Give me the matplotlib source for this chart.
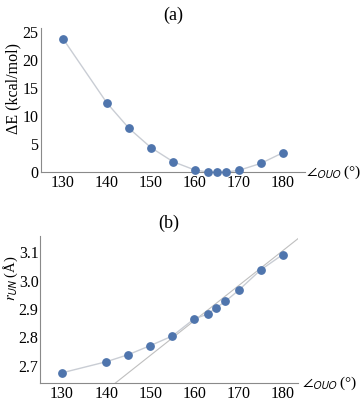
import matplotlib
matplotlib.use("Agg")
import matplotlib.pyplot as plt
import numpy as np

# Data
angles = [130, 140, 145, 150, 155, 160, 163, 165, 167, 170, 175, 180]
delta_e = [23.8, 12.3, 7.8, 4.35, 1.85, 0.35, 0.0, 0.0, 0.0, 0.3, 1.55, 3.45]
r_un = [2.675, 2.714, 2.739, 2.771, 2.805, 2.866, 2.882, 2.905, 2.927, 2.966, 3.038, 3.092]
tangent_x = [142.1, 184.0]
tangent_y = [2.639, 3.155]

xticks = [130, 140, 150, 160, 170, 180]
yticks_a = [0, 5, 10, 15, 20, 25]
yticks_b = [2.7, 2.8, 2.9, 3.0, 3.1]

plt.rcParams['mathtext.fontset'] = 'stix'
serif = 'Liberation Serif'
marker_color = '#4f75ad'
line_color = '#c9cdd4'
spine_color = '#8a8a8a'
tick_fs = 11.5

fig = plt.figure(figsize=(3.6, 4.13), dpi=100)
ax1 = fig.add_axes([0.114, 0.5835, 0.733, 0.3485])
ax2 = fig.add_axes([0.111, 0.0726, 0.717, 0.356])

def style(ax):
    for s in ['top', 'right']:
        ax.spines[s].set_visible(False)
    for s in ['left', 'bottom']:
        ax.spines[s].set_color(spine_color)
        ax.spines[s].set_linewidth(0.8)
    ax.tick_params(length=0, pad=2)
    ax.set_xticks(xticks)
    ax.set_xticklabels([str(t) for t in xticks], fontfamily=serif, fontsize=tick_fs)

# Panel (a)
ax1.plot(angles, delta_e, color=line_color, lw=1.0, zorder=2)
ax1.scatter(angles, delta_e, s=28, color=marker_color, zorder=3, clip_on=False)
ax1.set_xlim(125, 185)
ax1.set_ylim(0, 25.7)
style(ax1)
ax1.set_yticks(yticks_a)
ax1.set_yticklabels([str(t) for t in yticks_a], fontfamily=serif, fontsize=tick_fs)
ax1.text(-0.105, 0.58, 'ΔE (kcal/mol)', transform=ax1.transAxes, rotation=90,
         ha='center', va='center', fontfamily=serif, fontsize=11.5)
ax1.set_title('(a)', fontfamily=serif, fontsize=13, pad=6)
ax1.text(1.005, 0.0, r'$\angle_{\mathsf{OUO}}$ (°)', transform=ax1.transAxes,
         ha='left', va='center', fontfamily=serif, fontsize=11)

# Panel (b)
ax2.plot(angles, r_un, color=line_color, lw=1.0, zorder=2)
ax2.plot(tangent_x, tangent_y, color='#bfbfbf', lw=0.8, zorder=1)
ax2.scatter(angles, r_un, s=28, color=marker_color, zorder=3, clip_on=False)
ax2.set_xlim(125, 183.5)
ax2.set_ylim(2.639, 3.158)
style(ax2)
ax2.set_yticks(yticks_b)
ax2.set_yticklabels([f'{t:.1f}' for t in yticks_b], fontfamily=serif, fontsize=tick_fs)
ax2.tick_params(axis='y', pad=1)
ax2.text(-0.113, 0.71, r'$r_{\mathsf{UN}}$ (Å)', transform=ax2.transAxes, rotation=90,
         ha='center', va='center', fontfamily=serif, fontsize=10.5)
ax2.set_title('(b)', fontfamily=serif, fontsize=13, pad=6)
ax2.text(1.015, 0.0, r'$\angle_{\mathsf{OUO}}$ (°)', transform=ax2.transAxes,
         ha='left', va='center', fontfamily=serif, fontsize=11)

fig.savefig('out.png', dpi=100)
